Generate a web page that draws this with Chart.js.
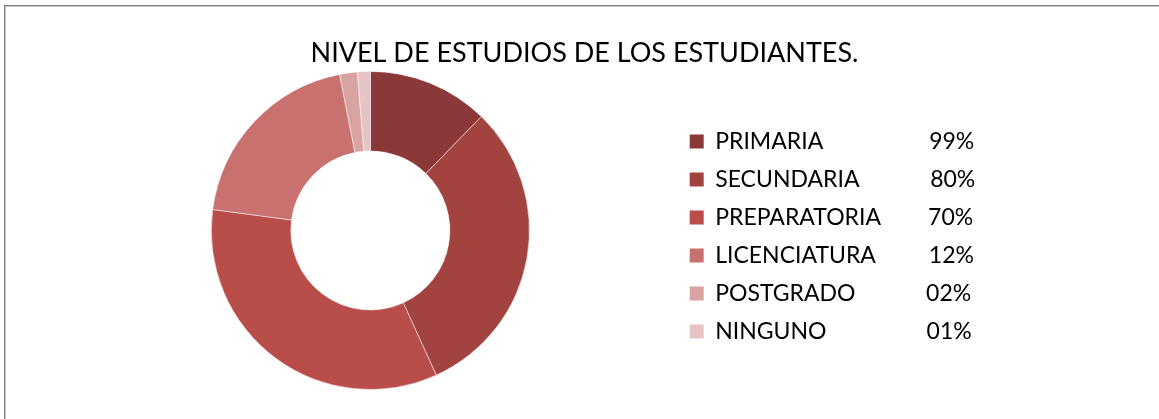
<!DOCTYPE html>
<html>
<head>
<meta charset="utf-8">
<script src="https://cdn.jsdelivr.net/npm/chart.js@4.4.1/dist/chart.umd.min.js"></script>
<style>
  html, body { margin: 0; padding: 0; background: #fff; }
  #wrap { position: relative; width: 1159px; height: 419px; overflow: hidden; }
  #frame {
    position: absolute; left: 4px; top: 5px; width: 1400px; height: 600px;
    border-top: 1px solid #7f7f7f; border-left: 1px solid #7f7f7f;
    box-shadow: inset 1px 1px 0 #c4c4c4;
  }
  canvas { position: absolute; left: 0; top: 0; }
</style>
</head>
<body>
<div id="wrap">
  <div id="frame"></div>
  <canvas id="chart" width="1159" height="419"></canvas>
</div>
<script>
const categories = ["PRIMARIA", "SECUNDARIA", "PREPARATORIA", "LICENCIATURA", "POSTGRADO", "NINGUNO"];
const legendPercents = ["99%", "80%", "70%", "12%", "02%", "01%"];
// share of the ring each slice takes
const sliceShares = [12.3, 30.9, 33.9, 19.8, 1.8, 1.3];
const sliceColors = ["#8b3838", "#a34340", "#b84d4a", "#c8716f", "#d9a3a2", "#e6c3c4"];

const LEGEND_FONT = { family: "Lato", size: 23 };
const PCT_COLUMN = 213;        // where the percent starts, from the label start
const LEGEND_TEXT_WIDTH = 375; // keeps the legend box wide enough

const measureCtx = document.createElement("canvas").getContext("2d");
measureCtx.font = `${LEGEND_FONT.size}px ${LEGEND_FONT.family}`;
const spaceW = measureCtx.measureText(" ").width;

function padTo(text, width) {
  let out = text;
  while (measureCtx.measureText(out).width + spaceW / 2 < width) out += " ";
  return out;
}

function legendText(name, pct) {
  return padTo(padTo(name, PCT_COLUMN) + pct, LEGEND_TEXT_WIDTH);
}

Chart.defaults.font.family = "Lato";

const ctx = document.getElementById("chart").getContext("2d");
new Chart(ctx, {
  type: "doughnut",
  data: {
    labels: categories,
    datasets: [{
      data: sliceShares,
      backgroundColor: sliceColors,
      borderColor: "rgba(255, 255, 255, 0.5)",
      borderWidth: 1,
    }],
  },
  options: {
    responsive: false,
    animation: false,
    devicePixelRatio: 1,
    cutout: "50%",
    layout: { padding: { left: 66, right: 56, top: 6, bottom: 29 } },
    plugins: {
      title: {
        display: true,
        text: "NIVEL DE ESTUDIOS DE LOS ESTUDIANTES.",
        color: "#000",
        font: { family: "Lato", size: 27, weight: "normal", lineHeight: 1.2 },
        padding: { top: 31, bottom: 1.5 },
      },
      legend: {
        position: "right",
        align: "center",
        fullSize: false,
        title: { display: true, text: "", font: { size: 12, lineHeight: 1 }, padding: 0 },
        labels: {
          boxWidth: 14,
          boxHeight: 14,
          padding: 15,
          color: "#000",
          font: LEGEND_FONT,
          generateLabels: (chart) => {
            const ds = chart.data.datasets[0];
            return chart.data.labels.map((label, i) => ({
              text: legendText(label, legendPercents[i]),
              fillStyle: ds.backgroundColor[i],
              strokeStyle: ds.backgroundColor[i],
              fontColor: "#000",
              lineWidth: 0,
              hidden: false,
              index: i,
            }));
          },
        },
      },
      tooltip: { enabled: false },
    },
  },
});
</script>
</body>
</html>
